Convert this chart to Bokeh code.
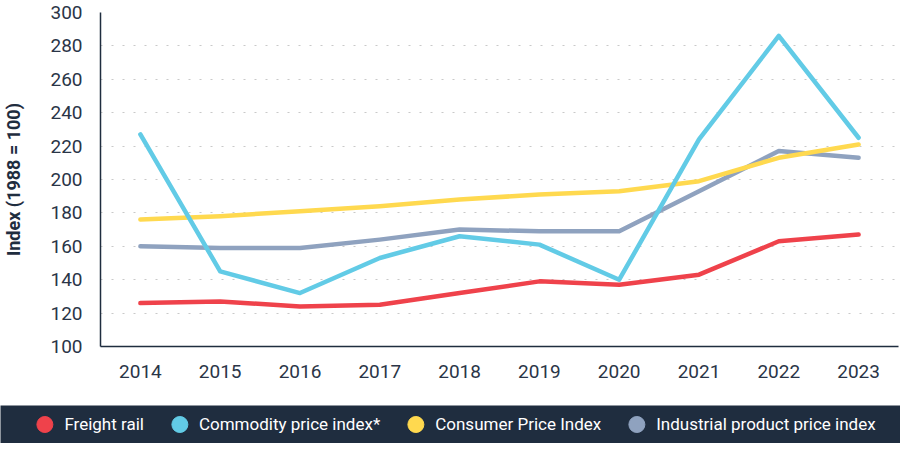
from bokeh.plotting import figure
from bokeh.layouts import column
from bokeh.models import FixedTicker, Legend, LegendItem
from bokeh.embed import file_html
from bokeh.resources import INLINE

years = [2014, 2015, 2016, 2017, 2018, 2019, 2020, 2021, 2022, 2023]
freight_rail = [126, 127, 124, 125, 132, 139, 137, 143, 163, 167]
commodity = [227, 145, 132, 153, 166, 161, 140, 224, 286, 225]
cpi = [176, 178, 181, 184, 188, 191, 193, 199, 213, 221]
industrial = [160, 159, 159, 164, 170, 169, 169, 193, 217, 213]
y_ticks = [100, 120, 140, 160, 180, 200, 220, 240, 260, 280, 300]

series_names = ["Freight rail", "Commodity price index*", "Consumer Price Index",
                "Industrial product price index"]
colors = ["#ef424b", "#62cbe6", "#ffd94f", "#8fa2bf"]
dark = "#1f2d3f"
FONT = "Roboto"

p = figure(width=900, height=405, output_backend="svg", toolbar_location=None,
           x_range=(2013.5, 2023.5), y_range=(100, 300),
           min_border_left=93, min_border_right=2, min_border_top=12,
           min_border_bottom=59)
p.outline_line_color = None

order = [(industrial, colors[3]), (cpi, colors[2]), (commodity, colors[1]), (freight_rail, colors[0])]
for vals, col in order:
    p.line(years, vals, line_color=col, line_width=4.5, line_cap="round", line_join="round")

p.xgrid.grid_line_color = None
p.ygrid.ticker = FixedTicker(ticks=y_ticks)
p.ygrid.grid_line_color = "#c9c9c9"
p.ygrid.grid_line_dash = "2 9"
p.ygrid.grid_line_width = 1

p.xaxis.ticker = FixedTicker(ticks=years)
p.yaxis.ticker = FixedTicker(ticks=y_ticks)
for ax in (p.xaxis, p.yaxis):
    ax.axis_line_color = dark
    ax.axis_line_width = 1.5
    ax.major_tick_line_color = None
    ax.minor_tick_line_color = None
    ax.major_label_text_font = FONT
    ax.major_label_text_font_size = "19px"
    ax.major_label_text_color = "#2a3547"
p.xaxis.major_label_standoff = 12
p.yaxis.major_label_standoff = 12
p.yaxis.axis_label = "Index (1988 = 100)"
p.yaxis.axis_label_text_font = FONT
p.yaxis.axis_label_text_font_style = "bold"
p.yaxis.axis_label_text_font_size = "18px"
p.yaxis.axis_label_text_color = dark
p.yaxis.axis_label_standoff = 23

# legend band
lg = figure(width=900, height=38, output_backend="svg", toolbar_location=None,
            x_axis_location=None, y_axis_location=None,
            min_border=0, min_border_left=0, min_border_right=0,
            min_border_top=0, min_border_bottom=0,
            x_range=(0, 1), y_range=(0, 1))
lg.background_fill_color = dark
lg.border_fill_color = dark
lg.outline_line_color = None
lg.xgrid.visible = False
lg.ygrid.visible = False

for fig in (p, lg):
    if "frame_align" in fig.properties():
        fig.frame_align = False

# legend keys: one dummy point each, outside the band's visible range
items = []
for name, col in zip(series_names, colors):
    r = lg.scatter(x=[-5], y=[-5], marker="circle", size=16,
                   fill_color=col, line_color=col)
    items.append(LegendItem(label=name, renderers=[r]))
legend = Legend(items=items, orientation="horizontal", location="center",
                background_fill_alpha=0, border_line_alpha=0,
                label_text_color="white", label_text_font=FONT,
                label_text_font_size="17px", glyph_width=40, glyph_height=40,
                label_standoff=0, spacing=15, padding=0, margin=0)
lg.add_layout(legend, "center")

layout = column(p, lg, spacing=0)
open("out.html", "w").write(file_html(layout, INLINE))
